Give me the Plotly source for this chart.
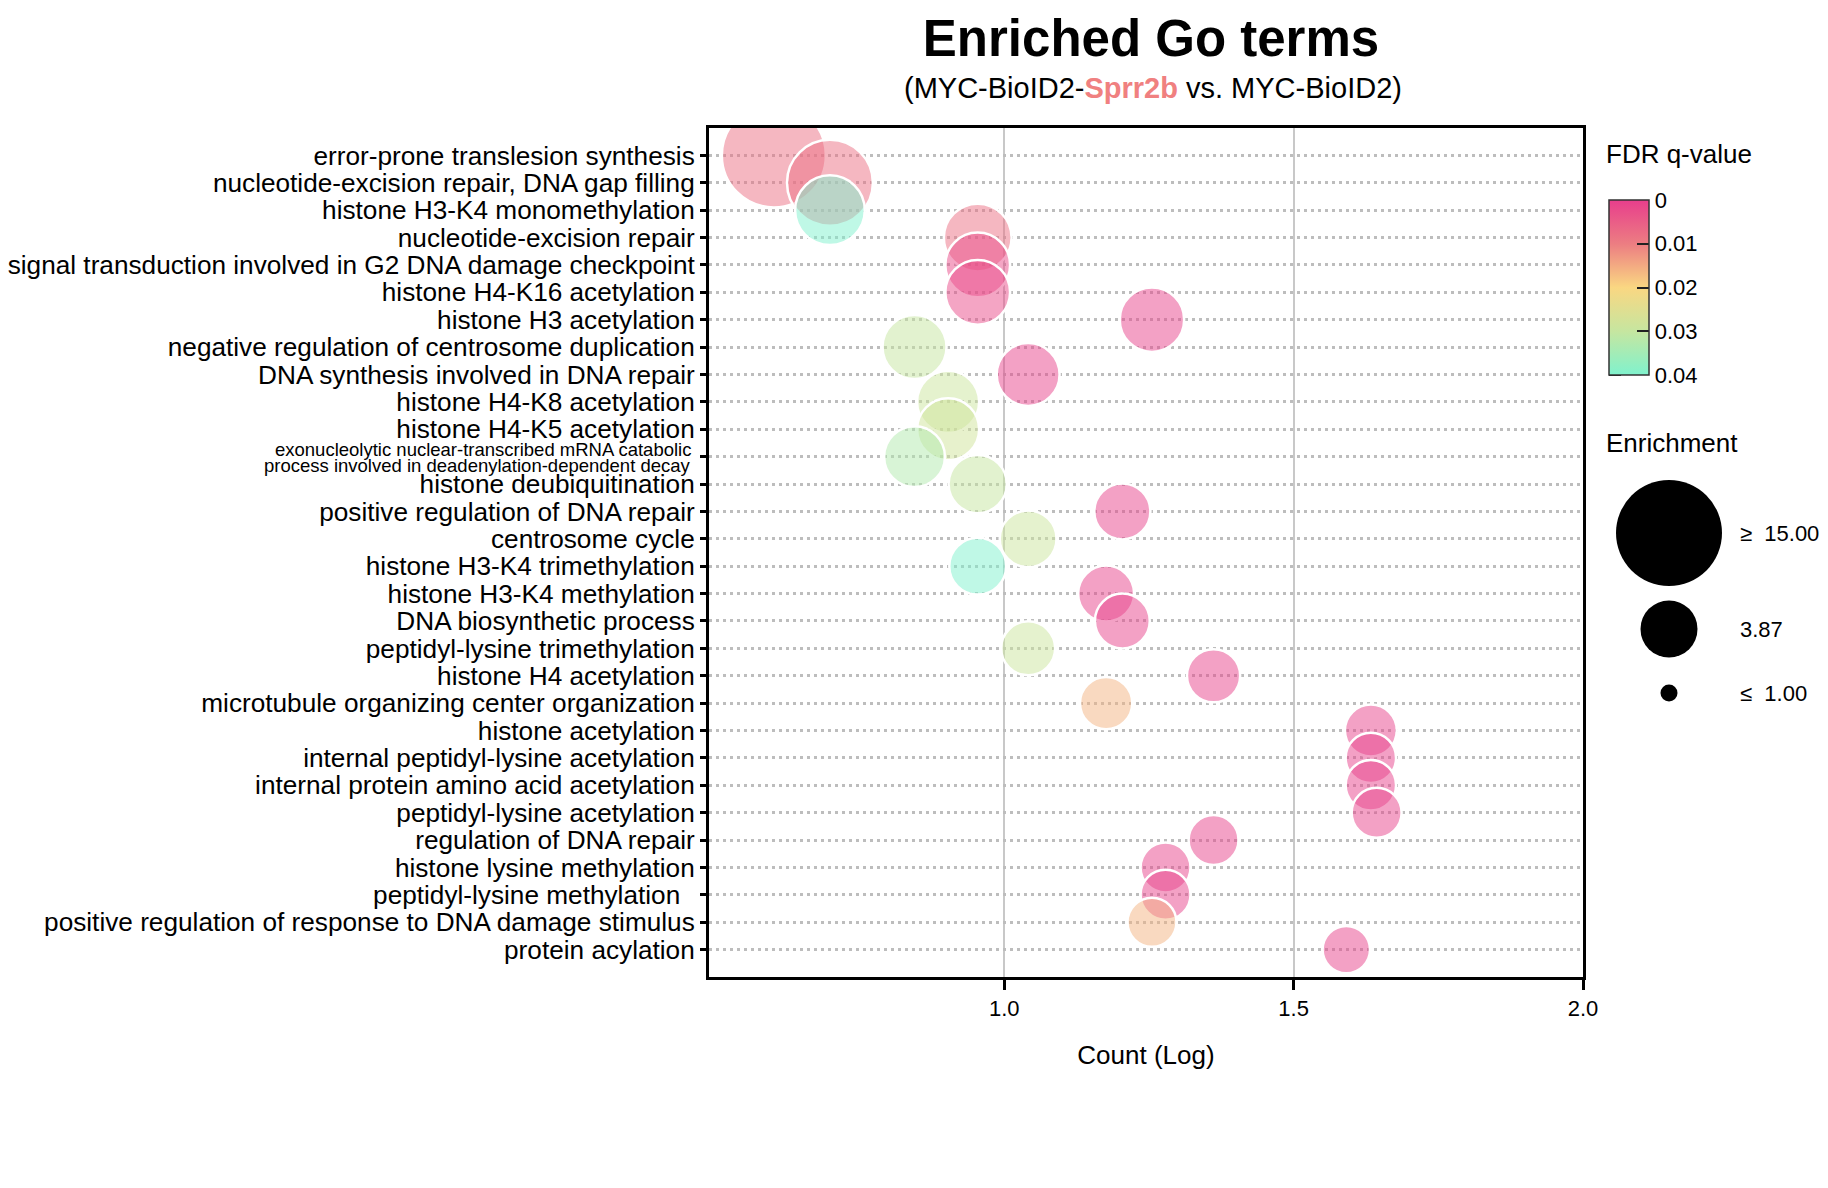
import numpy as np
import plotly.graph_objects as go

# ---------------- data ----------------
long_label_lines = ["exonucleolytic nuclear-transcribed mRNA catabolic",
                    "process involved in deadenylation-dependent decay"]
long_term = " ".join(long_label_lines)

terms = [
    "error-prone translesion synthesis",
    "nucleotide-excision repair, DNA gap filling",
    "histone H3-K4 monomethylation",
    "nucleotide-excision repair",
    "signal transduction involved in G2 DNA damage checkpoint",
    "histone H4-K16 acetylation",
    "histone H3 acetylation",
    "negative regulation of centrosome duplication",
    "DNA synthesis involved in DNA repair",
    "histone H4-K8 acetylation",
    "histone H4-K5 acetylation",
    long_term,
    "histone deubiquitination",
    "positive regulation of DNA repair",
    "centrosome cycle",
    "histone H3-K4 trimethylation",
    "histone H3-K4 methylation",
    "DNA biosynthetic process",
    "peptidyl-lysine trimethylation",
    "histone H4 acetylation",
    "microtubule organizing center organization",
    "histone acetylation",
    "internal peptidyl-lysine acetylation",
    "internal protein amino acid acetylation",
    "peptidyl-lysine acetylation",
    "regulation of DNA repair",
    "histone lysine methylation",
    "peptidyl-lysine methylation\u00a0\u00a0",
    "positive regulation of response to DNA damage stimulus",
    "protein acylation",
]

counts = [4, 5, 5, 9, 9, 9, 18, 7, 11, 8, 8, 7, 9, 16, 11,
          9, 15, 16, 11, 23, 15, 43, 43, 43, 44, 23, 19, 19, 18, 39]

fdr = [0.0078, 0.0078, 0.040, 0.0080, 0.002, 0.002, 0.001, 0.030, 0.001, 0.029,
       0.028, 0.033, 0.030, 0.001, 0.029, 0.040, 0.001, 0.001, 0.029, 0.001,
       0.016, 0.001, 0.0005, 0.0005, 0.001, 0.001, 0.001, 0.001, 0.016, 0.001]

enrichment = [14.2, 8.6, 5.5, 5.2, 4.8, 4.8, 4.75, 4.7, 4.55, 4.45,
              4.45, 4.3, 4.0, 3.75, 3.85, 3.85, 3.75, 3.6, 3.5, 3.4,
              3.3, 3.25, 3.1, 3.1, 3.05, 3.05, 3.05, 3.05, 2.95, 2.8]

legend_enrichment = [15.0, 3.87, 1.0]
legend_labels = ["\u2265  15.00", "3.87", "\u2264  1.00"]

fdr_ticks = [0.0, 0.01, 0.02, 0.03, 0.04]
x_ticks = [1.0, 1.5, 2.0]

# ---------------- styling helpers ----------------
W, H = 1828, 1188
FONT = "Liberation Sans, Arial, Helvetica, sans-serif"

def px_x(p):
    return p / W

def px_y(p):
    return 1 - p / H

def bubble_size(e):
    e = np.clip(np.asarray(e, dtype=float), 1.0, 15.0)
    return np.interp(np.log(e), [0.0, np.log(3.87), np.log(15.0)], [17, 57, 106])

stops = [(0.0, (128, 242, 205)), (0.25, (198, 230, 160)), (0.5, (250, 215, 130)),
         (0.75, (236, 125, 130)), (1.0, (232, 62, 140))]
ALPHA = 0.5
scale_solid = [[s, "rgb(%d,%d,%d)" % c] for s, c in stops]
scale_alpha = [[s, "rgba(%d,%d,%d,%.2f)" % (c + (ALPHA,))] for s, c in stops]

ypos = list(range(len(terms)))
xlog = np.log10(counts)
neg_fdr = [-v for v in fdr]
ticktext = ["" if t == long_term else t for t in terms]

fig = go.Figure()

# bubbles
fig.add_trace(go.Scatter(
    x=xlog, y=ypos, mode="markers",
    marker=dict(size=bubble_size(enrichment), sizemode="diameter", opacity=1,
                color=neg_fdr, colorscale=scale_alpha, cmin=-0.04, cmax=0,
                showscale=False, line=dict(color="white", width=2.5)),
    hoverinfo="skip", showlegend=False,
))

# colorbar carrier (invisible markers)
CB_TOP, CB_LEN, CB_LEFT, CB_W = 200, 175, 1609, 40
fig.add_trace(go.Scatter(
    x=xlog, y=ypos, mode="markers",
    marker=dict(size=1, opacity=0, color=neg_fdr, colorscale=scale_solid,
                cmin=-0.04, cmax=0, showscale=True,
                colorbar=dict(
                    x=px_x(CB_LEFT), xanchor="left", y=px_y(CB_TOP), yanchor="top",
                    len=CB_LEN, lenmode="pixels", thickness=CB_W, thicknessmode="pixels",
                    xpad=0, ypad=0, outlinewidth=1.5, outlinecolor="#333333",
                    tickvals=[-v for v in fdr_ticks],
                    ticktext=["0" if v == 0 else "%.2f" % v for v in fdr_ticks],
                    ticks="inside", ticklen=12, tickwidth=2, tickcolor="#222222",
                    tickfont=dict(family=FONT, size=22, color="black"),
                )),
    hoverinfo="skip", showlegend=False,
))

# size legend
legend_y = [533, 629, 693]
fig.add_trace(go.Scatter(
    x=[0.5] * 3, y=legend_y, mode="markers", xaxis="x2", yaxis="y2",
    marker=dict(size=bubble_size(legend_enrichment), sizemode="diameter", color="black",
                opacity=1, line=dict(width=0)),
    cliponaxis=False, hoverinfo="skip", showlegend=False,
))

annotations = []
for lab, yy in zip(legend_labels, legend_y):
    annotations.append(dict(text=lab, x=px_x(1738), xref="paper", xanchor="left",
                            y=yy, yref="y2", yanchor="middle", showarrow=False,
                            font=dict(family=FONT, size=22, color="black")))

annotations.append(dict(text="FDR q-value", x=px_x(1604), y=px_y(154), xref="paper", yref="paper",
                        xanchor="left", yanchor="middle", showarrow=False,
                        font=dict(family=FONT, size=26, color="black")))
annotations.append(dict(text="Enrichment", x=px_x(1604), y=px_y(443), xref="paper", yref="paper",
                        xanchor="left", yanchor="middle", showarrow=False,
                        font=dict(family=FONT, size=26, color="black")))
annotations.append(dict(
    text="(MYC-BioID2-<span style='color:#F08080'><b>Sprr2b</b></span> vs. MYC-BioID2)",
    x=px_x(1153), y=px_y(88), xref="paper", yref="paper", xanchor="center", yanchor="middle",
    showarrow=False, font=dict(family=FONT, size=29, color="black")))

# wrapped long y label
li = terms.index(long_term)
for line, shift in zip(long_label_lines, [7.5, -8.5]):
    annotations.append(dict(text=line, x=px_x(693), xref="paper", xanchor="right",
                            y=li, yref="y", yanchor="middle", yshift=shift, showarrow=False,
                            font=dict(family=FONT, size=18.5, color="black")))

# left-side colorbar tick dashes (the reference shows ticks on both edges)
shapes = []
for v in fdr_ticks[1:]:
    yy = CB_TOP + v / max(fdr_ticks) * CB_LEN
    shapes.append(dict(type="line", xref="paper", yref="paper",
                       x0=px_x(CB_LEFT), x1=px_x(CB_LEFT + 12), y0=px_y(yy), y1=px_y(yy),
                       line=dict(color="#222222", width=2)))

fig.update_layout(
    width=W, height=H,
    margin=dict(l=0, r=0, t=0, b=0),
    paper_bgcolor="white", plot_bgcolor="white",
    font=dict(family=FONT, color="black"),
    title=dict(text="<b>Enriched Go terms</b>", x=px_x(1151), y=px_y(38),
               xanchor="center", yanchor="middle",
               font=dict(family=FONT, size=51, color="black")),
    xaxis=dict(domain=[px_x(709), px_x(1583)], range=[0.49, 2.0],
               tickvals=x_ticks, ticktext=["%.1f" % v for v in x_ticks],
               showgrid=True, gridcolor="#c8c8c8", gridwidth=1.5,
               zeroline=False, showline=True, linecolor="black", linewidth=3, mirror=True,
               ticks="outside", ticklen=10, tickwidth=3, tickcolor="black",
               tickfont=dict(family=FONT, size=22, color="black"),
               title=dict(text="Count (Log)", standoff=26,
                          font=dict(family=FONT, size=26, color="black")),
               automargin=False),
    yaxis=dict(domain=[px_y(977), px_y(128)], range=[len(terms), -1],
               tickvals=ypos, ticktext=ticktext,
               showgrid=True, gridcolor="#bdbdbd", gridwidth=3, griddash="3px,4px",
               zeroline=False, showline=True, linecolor="black", linewidth=3, mirror=True,
               ticks="outside", ticklen=6, tickwidth=3, tickcolor="black",
               tickfont=dict(family=FONT, size=26.2, color="black"),
               automargin=False),
    xaxis2=dict(domain=[px_x(1609), px_x(1729)], range=[0, 1], visible=False, anchor="y2"),
    yaxis2=dict(domain=[px_y(740), px_y(490)], range=[740, 490], visible=False, anchor="x2"),
    annotations=annotations,
    shapes=shapes,
)

fig.write_html("out.html")
